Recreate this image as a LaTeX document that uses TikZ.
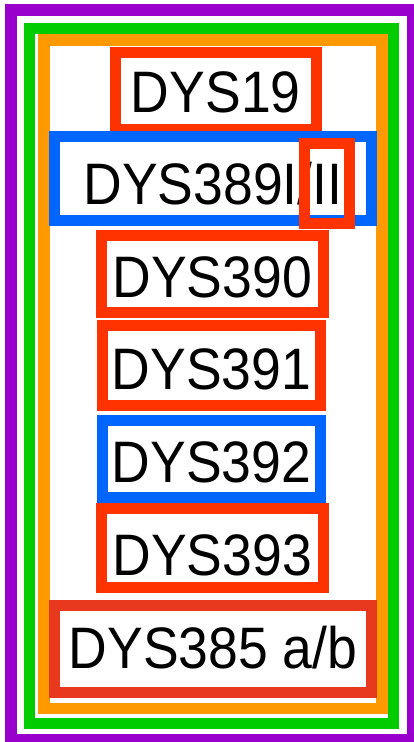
\documentclass[tikz,border=0pt]{standalone}
\usepackage{fontspec}
\usepackage{xcolor}
\usepackage{tikz}
\newfontfamily\dysfont[FakeStretch=0.915]{Liberation Sans}
\definecolor{markred}{HTML}{FF3300}
\definecolor{darkred}{HTML}{E8381E}
\definecolor{markblue}{HTML}{0066FF}
\definecolor{framepurple}{HTML}{9900CC}
\definecolor{framegreen}{HTML}{00CC00}
\definecolor{frameorange}{HTML}{FF9900}

\begin{document}
\begin{tikzpicture}[x=1pt, y=-1pt,
   marker/.style={draw=#1, line width=11pt, inner sep=0pt, font=\dysfont\fontsize{58.5}{60}\selectfont}]
\useasboundingbox (0,0) rectangle (414,742);
\clip (0,0) rectangle (414,742);

% Frames
\draw[framepurple, line width=12pt] (11,10) rectangle (413,740);
\draw[framegreen, line width=11pt] (29,28) rectangle (393.5,723);
\draw[frameorange, line width=11.5pt] (44,40) rectangle (382,708.5);

% Markers
\node[marker=markred, minimum width=200.5pt, text height=60pt, text depth=17pt] (d19) at (215.75, 90.5) {DYS19};
\node[marker=markblue, minimum width=317pt, text height=68pt, text depth=16pt] (d389) at (213, 178) {DYS389I/II};
\node[marker=markred, minimum width=45pt, minimum height=79.5pt] (ii) at (326.5, 183.25) {};
\node[marker=markred, minimum width=222.5pt, text height=62pt, text depth=15pt] (d390) at (212.25, 273.5) {DYS390};
\node[marker=markred, minimum width=218pt, text height=63.5pt, text depth=16pt] (d391) at (211.5, 365.25) {DYS391};
\node[marker=markblue, minimum width=218pt, text height=62pt, text depth=15.5pt] (d392) at (211.5, 458.75) {DYS392};
\node[marker=markred, minimum width=222.5pt, text height=66.5pt, text depth=12pt] (d393) at (212.25, 547.75) {DYS393};
\node[marker=darkred, minimum width=317pt, text height=63pt, text depth=24pt] (d385) at (213, 648.5) {DYS385 a/b};
\end{tikzpicture}
\end{document}
